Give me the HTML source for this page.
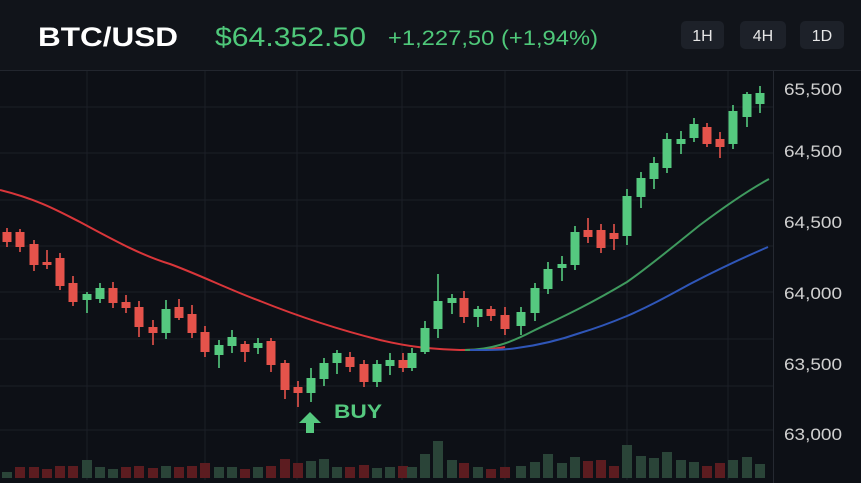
<!DOCTYPE html>
<html><head><meta charset="utf-8"><style>
html,body{margin:0;padding:0;background:#0d1016;}
svg{display:block}
text{font-family:"Liberation Sans",sans-serif}
</style></head><body>
<svg width="861" height="483" viewBox="0 0 861 483" xmlns="http://www.w3.org/2000/svg">
<rect width="861" height="483" fill="#0d1016"/>
<rect width="861" height="70" fill="#11141a"/>
<line x1="0" y1="70.5" x2="861" y2="70.5" stroke="#22262e"/>
<text x="38" y="46" fill="#ffffff" font-size="27" font-weight="bold" textLength="140" lengthAdjust="spacingAndGlyphs">BTC/USD</text>
<text x="215" y="46" fill="#4fc87a" font-size="27" textLength="151" lengthAdjust="spacingAndGlyphs">$64.352.50</text>
<text x="388" y="45" fill="#4fc87a" font-size="21" textLength="210" lengthAdjust="spacingAndGlyphs">+1,227,50 (+1,94%)</text>
<rect x="681" y="21" width="43" height="28" rx="5" fill="#1d2129"/>
<rect x="740" y="21" width="46" height="28" rx="5" fill="#1d2129"/>
<rect x="800" y="21" width="44" height="28" rx="5" fill="#1d2129"/>
<text x="702.5" y="41" fill="#e6e6e6" font-size="16" text-anchor="middle">1H</text>
<text x="763" y="41" fill="#e6e6e6" font-size="16" text-anchor="middle">4H</text>
<text x="822" y="41" fill="#e6e6e6" font-size="16" text-anchor="middle">1D</text>
<g stroke="#1b1f27" stroke-width="1">
<line x1="87" y1="71" x2="87" y2="480"/><line x1="205" y1="71" x2="205" y2="480"/><line x1="297" y1="71" x2="297" y2="480"/><line x1="402" y1="71" x2="402" y2="480"/><line x1="505" y1="71" x2="505" y2="480"/><line x1="627" y1="71" x2="627" y2="480"/><line x1="728" y1="71" x2="728" y2="480"/>
<line x1="0" y1="107" x2="773" y2="107"/><line x1="0" y1="153" x2="773" y2="153"/><line x1="0" y1="200" x2="773" y2="200"/><line x1="0" y1="246" x2="773" y2="246"/><line x1="0" y1="292" x2="773" y2="292"/><line x1="0" y1="339" x2="773" y2="339"/><line x1="0" y1="386" x2="773" y2="386"/><line x1="0" y1="430" x2="773" y2="430"/>
</g>
<line x1="773.5" y1="71" x2="773.5" y2="483" stroke="#252931"/>
<g fill="#d0d0d0" font-size="17">
<text x="784" y="95" textLength="58" lengthAdjust="spacingAndGlyphs">65,500</text><text x="784" y="157" textLength="58" lengthAdjust="spacingAndGlyphs">64,500</text><text x="784" y="228" textLength="58" lengthAdjust="spacingAndGlyphs">64,500</text><text x="784" y="299" textLength="58" lengthAdjust="spacingAndGlyphs">64,000</text><text x="784" y="370" textLength="58" lengthAdjust="spacingAndGlyphs">63,500</text><text x="784" y="440" textLength="58" lengthAdjust="spacingAndGlyphs">63,000</text>
</g>
<g>
<rect x="2" y="472" width="10" height="6" fill="#2a4438"/>
<rect x="15" y="467" width="10" height="11" fill="#5c1c20"/>
<rect x="29" y="467" width="10" height="11" fill="#5c1c20"/>
<rect x="42" y="469" width="10" height="9" fill="#5c1c20"/>
<rect x="55" y="466" width="10" height="12" fill="#5c1c20"/>
<rect x="68" y="466" width="10" height="12" fill="#5c1c20"/>
<rect x="82" y="460" width="10" height="18" fill="#2a4438"/>
<rect x="95" y="467" width="10" height="11" fill="#2a4438"/>
<rect x="108" y="469" width="10" height="9" fill="#2a4438"/>
<rect x="121" y="467" width="10" height="11" fill="#5c1c20"/>
<rect x="134" y="466" width="10" height="12" fill="#5c1c20"/>
<rect x="148" y="468" width="10" height="10" fill="#5c1c20"/>
<rect x="161" y="466" width="10" height="12" fill="#2a4438"/>
<rect x="174" y="467" width="10" height="11" fill="#5c1c20"/>
<rect x="187" y="466" width="10" height="12" fill="#5c1c20"/>
<rect x="200" y="463" width="10" height="15" fill="#5c1c20"/>
<rect x="214" y="467" width="10" height="11" fill="#2a4438"/>
<rect x="227" y="467" width="10" height="11" fill="#2a4438"/>
<rect x="240" y="469" width="10" height="9" fill="#5c1c20"/>
<rect x="253" y="467" width="10" height="11" fill="#2a4438"/>
<rect x="266" y="466" width="10" height="12" fill="#5c1c20"/>
<rect x="280" y="459" width="10" height="19" fill="#5c1c20"/>
<rect x="293" y="463" width="10" height="15" fill="#5c1c20"/>
<rect x="306" y="461" width="10" height="17" fill="#2a4438"/>
<rect x="319" y="459" width="10" height="19" fill="#2a4438"/>
<rect x="332" y="467" width="10" height="11" fill="#2a4438"/>
<rect x="345" y="467" width="10" height="11" fill="#5c1c20"/>
<rect x="359" y="465" width="10" height="13" fill="#5c1c20"/>
<rect x="372" y="468" width="10" height="10" fill="#2a4438"/>
<rect x="385" y="467" width="10" height="11" fill="#2a4438"/>
<rect x="398" y="466" width="10" height="12" fill="#5c1c20"/>
<rect x="407" y="467" width="10" height="11" fill="#2a4438"/>
<rect x="420" y="454" width="10" height="24" fill="#2a4438"/>
<rect x="433" y="441" width="10" height="37" fill="#2a4438"/>
<rect x="447" y="460" width="10" height="18" fill="#2a4438"/>
<rect x="459" y="463" width="10" height="15" fill="#5c1c20"/>
<rect x="473" y="467" width="10" height="11" fill="#2a4438"/>
<rect x="486" y="469" width="10" height="9" fill="#5c1c20"/>
<rect x="500" y="467" width="10" height="11" fill="#5c1c20"/>
<rect x="516" y="466" width="10" height="12" fill="#2a4438"/>
<rect x="530" y="462" width="10" height="16" fill="#2a4438"/>
<rect x="543" y="454" width="10" height="24" fill="#2a4438"/>
<rect x="557" y="463" width="10" height="15" fill="#2a4438"/>
<rect x="570" y="457" width="10" height="21" fill="#2a4438"/>
<rect x="583" y="461" width="10" height="17" fill="#5c1c20"/>
<rect x="596" y="460" width="10" height="18" fill="#5c1c20"/>
<rect x="609" y="466" width="10" height="12" fill="#5c1c20"/>
<rect x="622" y="445" width="10" height="33" fill="#2a4438"/>
<rect x="636" y="456" width="10" height="22" fill="#2a4438"/>
<rect x="649" y="458" width="10" height="20" fill="#2a4438"/>
<rect x="662" y="452" width="10" height="26" fill="#2a4438"/>
<rect x="676" y="460" width="10" height="18" fill="#2a4438"/>
<rect x="689" y="462" width="10" height="16" fill="#2a4438"/>
<rect x="702" y="466" width="10" height="12" fill="#5c1c20"/>
<rect x="715" y="463" width="10" height="15" fill="#5c1c20"/>
<rect x="728" y="460" width="10" height="18" fill="#2a4438"/>
<rect x="742" y="457" width="10" height="21" fill="#2a4438"/>
<rect x="755" y="464" width="10" height="14" fill="#2a4438"/>
</g>
<path d="M0,190 C40,200 60,212 80,222 C110,238 140,255 170,264 C200,275 230,290 260,301 C300,317 340,330 380,340 C410,347 430,349 460,350 C480,350 495,349 505,347" fill="none" stroke="#d9363a" stroke-width="2"/>
<path d="M465,350 C490,350 510,343 533,331 C560,318 585,307 627,282 C650,266 675,245 700,225 C720,210 745,192 769,179" fill="none" stroke="#3f9a5e" stroke-width="2"/>
<path d="M470,350 C490,350 505,350 517,348 C540,345 560,340 580,333 C600,327 615,321 627,316 C650,306 668,296 690,284 C715,271 740,259 768,247" fill="none" stroke="#2f56b8" stroke-width="2"/>
<g stroke-width="1.6">
<g fill="#e5534b" stroke="#e5534b">
<line x1="7" y1="228" x2="7" y2="247"/><rect x="2.5" y="232" width="9" height="10" stroke="none"/>
<line x1="20" y1="229" x2="20" y2="252"/><rect x="15.5" y="232" width="9" height="15" stroke="none"/>
<line x1="34" y1="240" x2="34" y2="271"/><rect x="29.5" y="244" width="9" height="21" stroke="none"/>
<line x1="47" y1="250" x2="47" y2="269"/><rect x="42.5" y="262" width="9" height="3" stroke="none"/>
<line x1="60" y1="253" x2="60" y2="290"/><rect x="55.5" y="258" width="9" height="28" stroke="none"/>
<line x1="73" y1="276" x2="73" y2="306"/><rect x="68.5" y="283" width="9" height="19" stroke="none"/>
<line x1="113" y1="282" x2="113" y2="308"/><rect x="108.5" y="288" width="9" height="15" stroke="none"/>
<line x1="126" y1="295" x2="126" y2="313"/><rect x="121.5" y="302" width="9" height="6" stroke="none"/>
<line x1="139" y1="301" x2="139" y2="337"/><rect x="134.5" y="307" width="9" height="20" stroke="none"/>
<line x1="153" y1="320" x2="153" y2="345"/><rect x="148.5" y="327" width="9" height="6" stroke="none"/>
<line x1="179" y1="299" x2="179" y2="320"/><rect x="174.5" y="307" width="9" height="11" stroke="none"/>
<line x1="192" y1="305" x2="192" y2="338"/><rect x="187.5" y="314" width="9" height="19" stroke="none"/>
<line x1="205" y1="326" x2="205" y2="357"/><rect x="200.5" y="332" width="9" height="20" stroke="none"/>
<line x1="245" y1="341" x2="245" y2="362"/><rect x="240.5" y="344" width="9" height="8" stroke="none"/>
<line x1="271" y1="338" x2="271" y2="372"/><rect x="266.5" y="341" width="9" height="24" stroke="none"/>
<line x1="285" y1="360" x2="285" y2="399"/><rect x="280.5" y="363" width="9" height="27" stroke="none"/>
<line x1="298" y1="381" x2="298" y2="407"/><rect x="293.5" y="387" width="9" height="6" stroke="none"/>
<line x1="350" y1="352" x2="350" y2="372"/><rect x="345.5" y="357" width="9" height="10" stroke="none"/>
<line x1="364" y1="360" x2="364" y2="387"/><rect x="359.5" y="364" width="9" height="18" stroke="none"/>
<line x1="403" y1="353" x2="403" y2="372"/><rect x="398.5" y="360" width="9" height="8" stroke="none"/>
<line x1="464" y1="291" x2="464" y2="323"/><rect x="459.5" y="298" width="9" height="19" stroke="none"/>
<line x1="491" y1="306" x2="491" y2="321"/><rect x="486.5" y="309" width="9" height="7" stroke="none"/>
<line x1="505" y1="307" x2="505" y2="335"/><rect x="500.5" y="315" width="9" height="14" stroke="none"/>
<line x1="588" y1="218" x2="588" y2="243"/><rect x="583.5" y="230" width="9" height="7" stroke="none"/>
<line x1="601" y1="224" x2="601" y2="253"/><rect x="596.5" y="230" width="9" height="18" stroke="none"/>
<line x1="614" y1="224" x2="614" y2="250"/><rect x="609.5" y="233" width="9" height="6" stroke="none"/>
<line x1="707" y1="123" x2="707" y2="147"/><rect x="702.5" y="127" width="9" height="17" stroke="none"/>
<line x1="720" y1="132" x2="720" y2="158"/><rect x="715.5" y="139" width="9" height="8" stroke="none"/>
</g>
<g fill="#55c97f" stroke="#55c97f">
<line x1="87" y1="292" x2="87" y2="313"/><rect x="82.5" y="294" width="9" height="6" stroke="none"/>
<line x1="100" y1="283" x2="100" y2="303"/><rect x="95.5" y="288" width="9" height="11" stroke="none"/>
<line x1="166" y1="300" x2="166" y2="339"/><rect x="161.5" y="309" width="9" height="24" stroke="none"/>
<line x1="219" y1="340" x2="219" y2="368"/><rect x="214.5" y="345" width="9" height="10" stroke="none"/>
<line x1="232" y1="330" x2="232" y2="353"/><rect x="227.5" y="337" width="9" height="9" stroke="none"/>
<line x1="258" y1="338" x2="258" y2="354"/><rect x="253.5" y="343" width="9" height="5" stroke="none"/>
<line x1="311" y1="368" x2="311" y2="402"/><rect x="306.5" y="378" width="9" height="15" stroke="none"/>
<line x1="324" y1="358" x2="324" y2="386"/><rect x="319.5" y="363" width="9" height="16" stroke="none"/>
<line x1="337" y1="350" x2="337" y2="374"/><rect x="332.5" y="353" width="9" height="10" stroke="none"/>
<line x1="377" y1="360" x2="377" y2="387"/><rect x="372.5" y="364" width="9" height="18" stroke="none"/>
<line x1="390" y1="353" x2="390" y2="375"/><rect x="385.5" y="360" width="9" height="6" stroke="none"/>
<line x1="412" y1="348" x2="412" y2="371"/><rect x="407.5" y="353" width="9" height="15" stroke="none"/>
<line x1="425" y1="321" x2="425" y2="354"/><rect x="420.5" y="328" width="9" height="24" stroke="none"/>
<line x1="438" y1="274" x2="438" y2="338"/><rect x="433.5" y="301" width="9" height="28" stroke="none"/>
<line x1="452" y1="294" x2="452" y2="314"/><rect x="447.5" y="298" width="9" height="5" stroke="none"/>
<line x1="478" y1="306" x2="478" y2="327"/><rect x="473.5" y="309" width="9" height="8" stroke="none"/>
<line x1="521" y1="307" x2="521" y2="335"/><rect x="516.5" y="312" width="9" height="14" stroke="none"/>
<line x1="535" y1="283" x2="535" y2="321"/><rect x="530.5" y="288" width="9" height="25" stroke="none"/>
<line x1="548" y1="262" x2="548" y2="294"/><rect x="543.5" y="269" width="9" height="20" stroke="none"/>
<line x1="562" y1="256" x2="562" y2="281"/><rect x="557.5" y="264" width="9" height="4" stroke="none"/>
<line x1="575" y1="226" x2="575" y2="270"/><rect x="570.5" y="232" width="9" height="33" stroke="none"/>
<line x1="627" y1="189" x2="627" y2="245"/><rect x="622.5" y="196" width="9" height="40" stroke="none"/>
<line x1="641" y1="172" x2="641" y2="208"/><rect x="636.5" y="178" width="9" height="19" stroke="none"/>
<line x1="654" y1="157" x2="654" y2="189"/><rect x="649.5" y="163" width="9" height="16" stroke="none"/>
<line x1="667" y1="133" x2="667" y2="173"/><rect x="662.5" y="139" width="9" height="29" stroke="none"/>
<line x1="681" y1="131" x2="681" y2="154"/><rect x="676.5" y="139" width="9" height="5" stroke="none"/>
<line x1="694" y1="118" x2="694" y2="142"/><rect x="689.5" y="124" width="9" height="14" stroke="none"/>
<line x1="733" y1="105" x2="733" y2="149"/><rect x="728.5" y="111" width="9" height="33" stroke="none"/>
<line x1="747" y1="92" x2="747" y2="127"/><rect x="742.5" y="94" width="9" height="23" stroke="none"/>
<line x1="760" y1="86" x2="760" y2="113"/><rect x="755.5" y="93" width="9" height="11" stroke="none"/>
</g>
</g>
<polygon points="310,412 321,423 314,423 314,433 306,433 306,423 299,423" fill="#55c97f"/>
<text x="334" y="418" fill="#55c97f" font-size="19" font-weight="bold" textLength="48" lengthAdjust="spacingAndGlyphs">BUY</text>
</svg>
</body></html>
